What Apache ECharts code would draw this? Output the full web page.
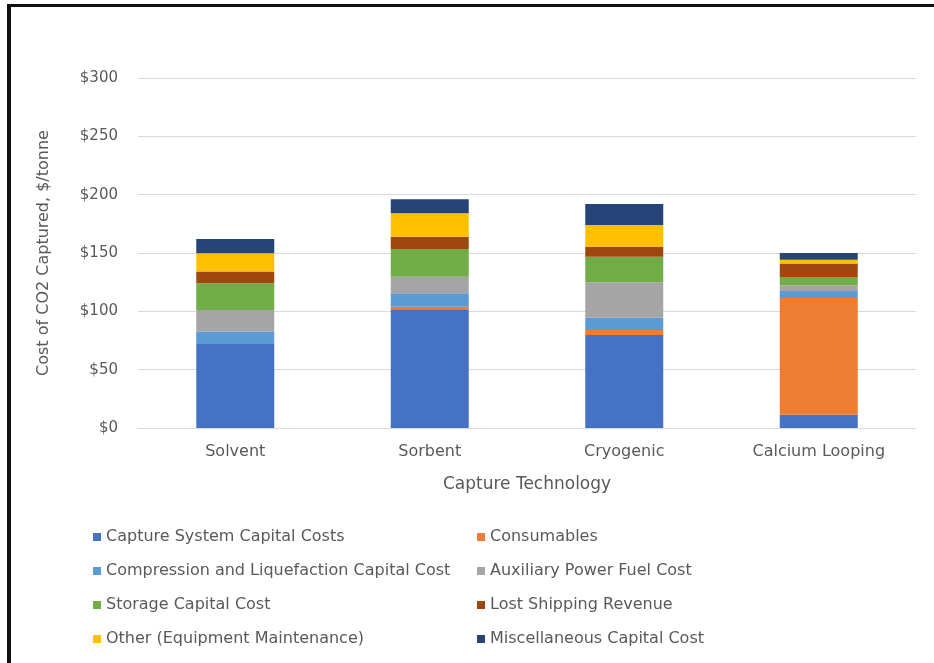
<!DOCTYPE html>
<html>
<head>
<meta charset="utf-8">
<script src="https://cdn.jsdelivr.net/npm/echarts@6/dist/echarts.min.js"></script>
<style>
    html, body { margin: 0; padding: 0; background: #fff; }
    #frame {
        position: absolute; left: 7px; top: 4px; width: 930px; height: 670px;
        border-left: 4px solid #111; border-top: 3px solid #111;
    }
    #chart { position: absolute; left: 0; top: 0; width: 934px; height: 663px; }
</style>
</head>
<body>
<div id="frame"></div>
<div id="chart"></div>
<script>
const categories = ['Solvent', 'Sorbent', 'Cryogenic', 'Calcium Looping'];
const seriesNames = [
    'Capture System Capital Costs',
    'Consumables',
    'Compression and Liquefaction Capital Cost',
    'Auxiliary Power Fuel Cost',
    'Storage Capital Cost',
    'Lost Shipping Revenue',
    'Other (Equipment Maintenance)',
    'Miscellaneous Capital Cost'
];
const captureCapital = [72.6, 101.7, 79.7, 11.4];
const consumables = [0, 2.3, 4.3, 100];
const compression = [10, 11.4, 10.6, 6];
const auxPower = [18.5, 14.3, 30.3, 5];
const storage = [23, 23.7, 21.9, 7];
const lostShipping = [10, 10.6, 8.6, 11.5];
const otherMaint = [15.7, 20, 18.6, 3.4];
const miscCapital = [12.3, 12, 18, 5.7];
const yTicks = [0, 50, 100, 150, 200, 250, 300];

const values = [captureCapital, consumables, compression, auxPower, storage, lostShipping, otherMaint, miscCapital];
const colors = ['#4472C4', '#ED7D31', '#5B9BD5', '#A5A5A5', '#70AD47', '#9E480E', '#FFC000', '#264478'];
const font = 'DejaVu Sans';
const textColor = '#595959';

function legendBlock(names, left) {
    return {
        orient: 'vertical',
        left: left,
        top: 524,
        itemWidth: 8,
        itemHeight: 8,
        itemGap: 18,
        icon: 'rect',
        data: names,
        textStyle: { fontFamily: font, fontSize: 16, color: textColor, lineHeight: 16 }
    };
}

const option = {
    animation: false,
    color: colors,
    grid: { left: 138, right: 18, top: 78, bottom: 235 },
    legend: [
        legendBlock(seriesNames.filter((n, i) => i % 2 === 0), 88),
        legendBlock(seriesNames.filter((n, i) => i % 2 === 1), 472)
    ],
    xAxis: {
        type: 'category',
        data: categories,
        name: 'Capture Technology',
        nameLocation: 'middle',
        nameGap: 48,
        nameTextStyle: { fontFamily: font, fontSize: 17, color: textColor },
        axisLine: { lineStyle: { color: '#d9d9d9' } },
        axisTick: { show: false },
        axisLabel: { margin: 16, fontFamily: font, fontSize: 16, color: textColor }
    },
    yAxis: {
        type: 'value',
        min: yTicks[0],
        max: yTicks[yTicks.length - 1],
        interval: 50,
        name: 'Cost of CO2 Captured, $/tonne',
        nameLocation: 'middle',
        nameGap: 86,
        nameTextStyle: { fontFamily: font, fontSize: 16, color: textColor },
        axisLine: { show: false },
        axisTick: { show: false },
        splitLine: { lineStyle: { color: '#d9d9d9' } },
        axisLabel: {
            margin: 20,
            fontFamily: font,
            fontSize: 15,
            color: textColor,
            formatter: v => '$' + v
        }
    },
    series: seriesNames.map((name, i) => ({
        name: name,
        type: 'bar',
        stack: 'total',
        barWidth: 78,
        data: values[i]
    }))
};

const chart = echarts.init(document.getElementById('chart'), null, { renderer: 'canvas' });
chart.setOption(option);
</script>
</body>
</html>
